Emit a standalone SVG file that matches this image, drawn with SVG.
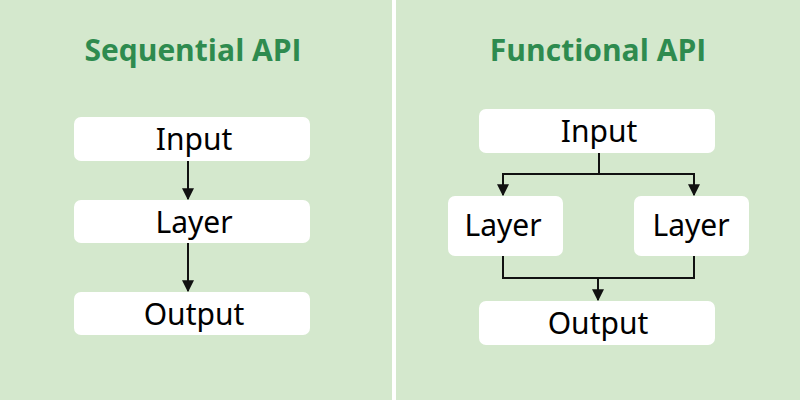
<svg xmlns="http://www.w3.org/2000/svg" width="800" height="400" viewBox="0 0 800 400">
<defs>
<style>
.t{font-family:"Open Sans","Noto Sans",sans-serif;font-weight:700;font-size:30px;fill:#2e8b4f;text-anchor:middle}
.l{font-family:"Noto Sans","Open Sans",sans-serif;font-size:30px;fill:#000;text-anchor:middle}
.c{fill:none;stroke:#111;stroke-width:2}
</style>
<marker id="a" viewBox="0 0 10 10" refX="9" refY="5" markerWidth="6" markerHeight="6" orient="auto"><path d="M0,0L10,5L0,10z" fill="#111"/></marker>
</defs>
<rect width="800" height="400" fill="#d4e8cd"/>
<rect x="392" y="0" width="4" height="400" fill="#fff"/>
<text class="t" x="193" y="61">Sequential API</text>
<text class="t" x="598" y="61">Functional API</text>
<g id="s-input"><rect fill="#fff" x="74" y="117" width="236" height="44" rx="7"/><text class="l" x="194" y="150">Input</text></g>
<g id="s-layer"><rect fill="#fff" x="74" y="200" width="236" height="43" rx="7"/><text class="l" x="194" y="233">Layer</text></g>
<g id="s-output"><rect fill="#fff" x="74" y="292" width="236" height="43" rx="7"/><text class="l" x="194" y="325">Output</text></g>
<g id="f-input"><rect fill="#fff" x="479" y="109" width="236" height="44" rx="7"/><text class="l" x="599" y="142">Input</text></g>
<g id="f-layer1"><rect fill="#fff" x="448" y="196" width="115" height="60" rx="7"/><text class="l" x="503" y="236">Layer</text></g>
<g id="f-layer2"><rect fill="#fff" x="634" y="196" width="115" height="60" rx="7"/><text class="l" x="691" y="236">Layer</text></g>
<g id="f-output"><rect fill="#fff" x="479" y="301" width="236" height="44" rx="7"/><text class="l" x="598" y="334">Output</text></g>
<g id="connectors">
<path class="c" d="M188,161V199" marker-end="url(#a)"/>
<path class="c" d="M188,243V291" marker-end="url(#a)"/>
<path class="c" d="M599,153V174H503V195" marker-end="url(#a)"/>
<path class="c" d="M599,174H694V195" marker-end="url(#a)"/>
<path class="c" d="M503,256V278H694V256"/>
<path class="c" d="M598,278V300" marker-end="url(#a)"/>
</g>
</svg>
